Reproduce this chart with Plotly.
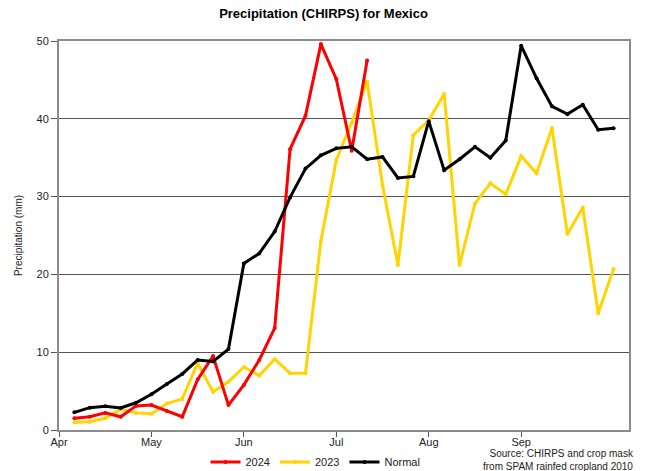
import plotly.graph_objects as go

# pentad index (1..36, end of each 5-day period from Apr 1)
pentads = list(range(1, 37))
month_ticks = [0, 6, 12, 18, 24, 30]
month_labels = ["Apr", "May", "Jun", "Jul", "Aug", "Sep"]

normal = [2.27, 2.87, 3.05, 2.83, 3.5, 4.6, 5.9, 7.2, 9.0, 8.8, 10.4, 21.4,
          22.7, 25.5, 29.9, 33.6, 35.3, 36.2, 36.4, 34.8, 35.1, 32.4, 32.6, 39.7,
          33.4, 34.8, 36.4, 35.0, 37.2, 49.4, 45.2, 41.6, 40.6, 41.8, 38.6, 38.8]
y2024 = [1.5, 1.7, 2.2, 1.7, 3.1, 3.2, 2.45, 1.7, 6.5, 9.5, 3.2, 5.8,
         9.0, 13.1, 36.1, 40.4, 49.6, 45.1, 35.9, 47.5]
y2023 = [0.95, 1.07, 1.5, 2.65, 2.2, 2.1, 3.4, 4.0, 8.6, 4.9, 6.2, 8.1,
         7.0, 9.1, 7.3, 7.3, 24.3, 34.7, 39.5, 44.8, 31.5, 21.2, 37.9, 39.8,
         43.2, 21.2, 29.1, 31.7, 30.3, 35.2, 33.0, 38.8, 25.2, 28.6, 15.0, 20.7]

fig = go.Figure()
fig.add_trace(go.Scatter(x=pentads[:len(y2023)], y=y2023, name="2023", mode="lines+markers",
                         line=dict(color="#FFD400", width=3), marker=dict(size=4),
                         legendrank=2))
fig.add_trace(go.Scatter(x=pentads[:len(y2024)], y=y2024, name="2024", mode="lines+markers",
                         line=dict(color="#FF0000", width=3), marker=dict(size=4),
                         legendrank=1))
fig.add_trace(go.Scatter(x=pentads, y=normal, name="Normal", mode="lines+markers",
                         line=dict(color="#000000", width=3), marker=dict(size=4),
                         legendrank=3))

fig.update_layout(
    width=647, height=471,
    margin=dict(l=59, r=18, t=41, b=41, autoexpand=False),
    paper_bgcolor="white", plot_bgcolor="white",
    font=dict(family="Liberation Sans, Arial, sans-serif", size=11, color="#222"),
    title=dict(text="<b>Precipitation (CHIRPS) for Mexico</b>", x=0.5, xref="container",
               xanchor="center", y=0.972, yref="container", yanchor="middle",
               font=dict(size=13, color="#000")),
    showlegend=True,
    legend=dict(orientation="h", x=0.45, xanchor="center", y=-0.082, yanchor="middle",
                font=dict(size=11, color="#222"), bgcolor="rgba(0,0,0,0)",
                itemwidth=30, tracegroupgap=0),
)
fig.update_xaxes(range=[0, 37], tickmode="array", tickvals=month_ticks, ticktext=month_labels,
                 showgrid=False, zeroline=False, showline=True, linecolor="#8c8c8c", linewidth=2,
                 mirror=True, ticks="outside", ticklen=5, tickcolor="#555", tickwidth=1,
                 ticklabelstandoff=-4,
                 tickfont=dict(size=11, color="#222"), automargin=False)
fig.update_yaxes(range=[0, 50], dtick=10, showgrid=True, gridcolor="#555", gridwidth=1,
                 zeroline=False, showline=True, linecolor="#8c8c8c", linewidth=2, mirror=True,
                 ticks="outside", ticklen=6, tickcolor="#555", tickwidth=1,
                 tickfont=dict(size=11, color="#222"), automargin=False,
                 title=dict(text="Precipitation (mm)", font=dict(size=10, color="#222"), standoff=12))

fig.add_annotation(text="Source: CHIRPS and crop mask<br>from SPAM rainfed cropland 2010",
                   xref="paper", yref="paper", x=1.012, y=-0.042, xanchor="right", yanchor="top",
                   align="right", showarrow=False, font=dict(size=10, color="#222"))

fig.write_html("out.html", config={"displayModeBar": False},
               post_script="document.body.style.margin='0px';document.body.style.padding='0px';")
